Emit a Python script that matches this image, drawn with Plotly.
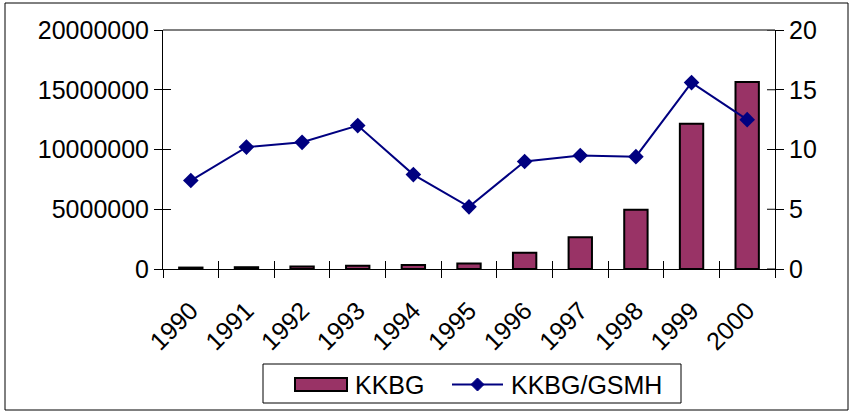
import plotly.graph_objects as go

years = ["1990", "1991", "1992", "1993", "1994", "1995", "1996", "1997", "1998", "1999", "2000"]
kkbg = [120000, 150000, 200000, 280000, 330000, 450000, 1350000, 2650000, 4950000, 12150000, 15650000]
ratio = [7.4, 10.2, 10.6, 12.0, 7.9, 5.2, 9.0, 9.5, 9.4, 15.6, 12.5]

FONT = "Liberation Sans, Arial, sans-serif"
FS = 25
BAR_COLOR = "#993366"
LINE_COLOR = "#000080"

# plot area in pixels
L, R, T, B = 163, 775, 30, 269
W, H = 854, 415


def px(x):
    return (x - L) / (R - L)


def py(y):
    return (B - y) / (B - T)


fig = go.Figure()
fig.add_trace(go.Bar(
    x=years, y=kkbg, name="KKBG",
    marker=dict(color=BAR_COLOR, line=dict(color="black", width=2)),
    width=0.42, yaxis="y", showlegend=False,
))
fig.add_trace(go.Scatter(
    x=years, y=ratio, name="KKBG/GSMH", mode="lines+markers",
    line=dict(color=LINE_COLOR, width=2),
    marker=dict(symbol="diamond", size=12, color=LINE_COLOR),
    yaxis="y2", showlegend=False,
))
# invisible helper trace so the crossing-tick overlay axes get drawn
fig.add_trace(go.Scatter(
    x=list(range(len(years))), y=ratio, xaxis="x2", yaxis="y3",
    mode="markers", marker=dict(opacity=0), hoverinfo="skip", showlegend=False,
))

common_y = dict(showline=True, linecolor="black", linewidth=1, ticklen=8, tickcolor="black",
                showgrid=False, zeroline=False, tickfont=dict(size=FS), automargin=False)

fig.update_layout(
    width=W, height=H,
    margin=dict(l=L, r=W - R, t=T, b=H - B),
    paper_bgcolor="white", plot_bgcolor="white",
    font=dict(family=FONT, size=FS, color="black"),
    xaxis=dict(
        type="category", showline=True, linecolor="black", linewidth=1,
        ticks="outside", ticklen=8, tickcolor="black", tickson="boundaries",
        tickangle=-45, tickfont=dict(size=FS), showgrid=False, zeroline=False,
        range=[-0.5, 10.5], automargin=False, ticklabelstandoff=16,
    ),
    xaxis2=dict(
        overlaying="x", anchor="y", side="bottom", range=[-0.5, 10.5],
        tickvals=[i - 0.5 for i in range(len(years) + 1)], ticks="inside", ticklen=8,
        tickcolor="black", showticklabels=False, showgrid=False, zeroline=False,
        showline=False, automargin=False,
    ),
    yaxis=dict(
        range=[0, 20000000], tickvals=[0, 5000000, 10000000, 15000000, 20000000],
        ticktext=["0", "5000000", "10000000", "15000000", "20000000"],
        ticks="outside", **common_y,
    ),
    yaxis2=dict(
        range=[0, 20], tickvals=[0, 5, 10, 15, 20], overlaying="y", side="right",
        ticks="outside", **common_y,
    ),
    yaxis3=dict(
        range=[0, 20], tickvals=[0, 5, 10, 15, 20], overlaying="y", side="left",
        ticks="inside", showticklabels=False, **common_y,
    ),
    shapes=[
        dict(type="line", xref="paper", yref="paper", x0=0, x1=1, y0=1, y1=1,
             line=dict(color="black", width=1)),
        # inside half of right-axis ticks
        *[dict(type="line", xref="paper", yref="y2", x0=1 - 8 / (R - L), x1=1, y0=v, y1=v,
               line=dict(color="black", width=1)) for v in [0, 5, 10, 15, 20]],
        # outer chart border
        dict(type="rect", xref="paper", yref="paper", x0=px(5), x1=px(848), y0=py(410), y1=py(3),
             line=dict(color="black", width=1), layer="below"),
        # legend box
        dict(type="rect", xref="paper", yref="paper", x0=px(263), x1=px(681), y0=py(403), y1=py(364),
             line=dict(color="black", width=1)),
        # legend bar swatch
        dict(type="rect", xref="paper", yref="paper", x0=px(295), x1=px(347), y0=py(391), y1=py(378),
             fillcolor=BAR_COLOR, line=dict(color="black", width=2)),
        # legend line swatch
        dict(type="line", xref="paper", yref="paper", x0=px(452), x1=px(503), y0=py(384.5), y1=py(384.5),
             line=dict(color=LINE_COLOR, width=2)),
        dict(type="path", xref="paper", yref="paper",
             path=f"M {px(471)},{py(384.5)} L {px(477.5)},{py(378)} L {px(484)},{py(384.5)} L {px(477.5)},{py(391)} Z",
             fillcolor=LINE_COLOR, line=dict(color=LINE_COLOR, width=1)),
    ],
    annotations=[
        dict(text="KKBG", xref="paper", yref="paper", x=px(353), y=py(384.5),
             xanchor="left", yanchor="middle", showarrow=False, font=dict(size=FS)),
        dict(text="KKBG/GSMH", xref="paper", yref="paper", x=px(509), y=py(384.5),
             xanchor="left", yanchor="middle", showarrow=False, font=dict(size=FS)),
    ],
)

fig.write_html(
    "out.html",
    config={"displayModeBar": False},
    post_script="document.body.style.margin='0';document.body.style.overflow='hidden';",
)
